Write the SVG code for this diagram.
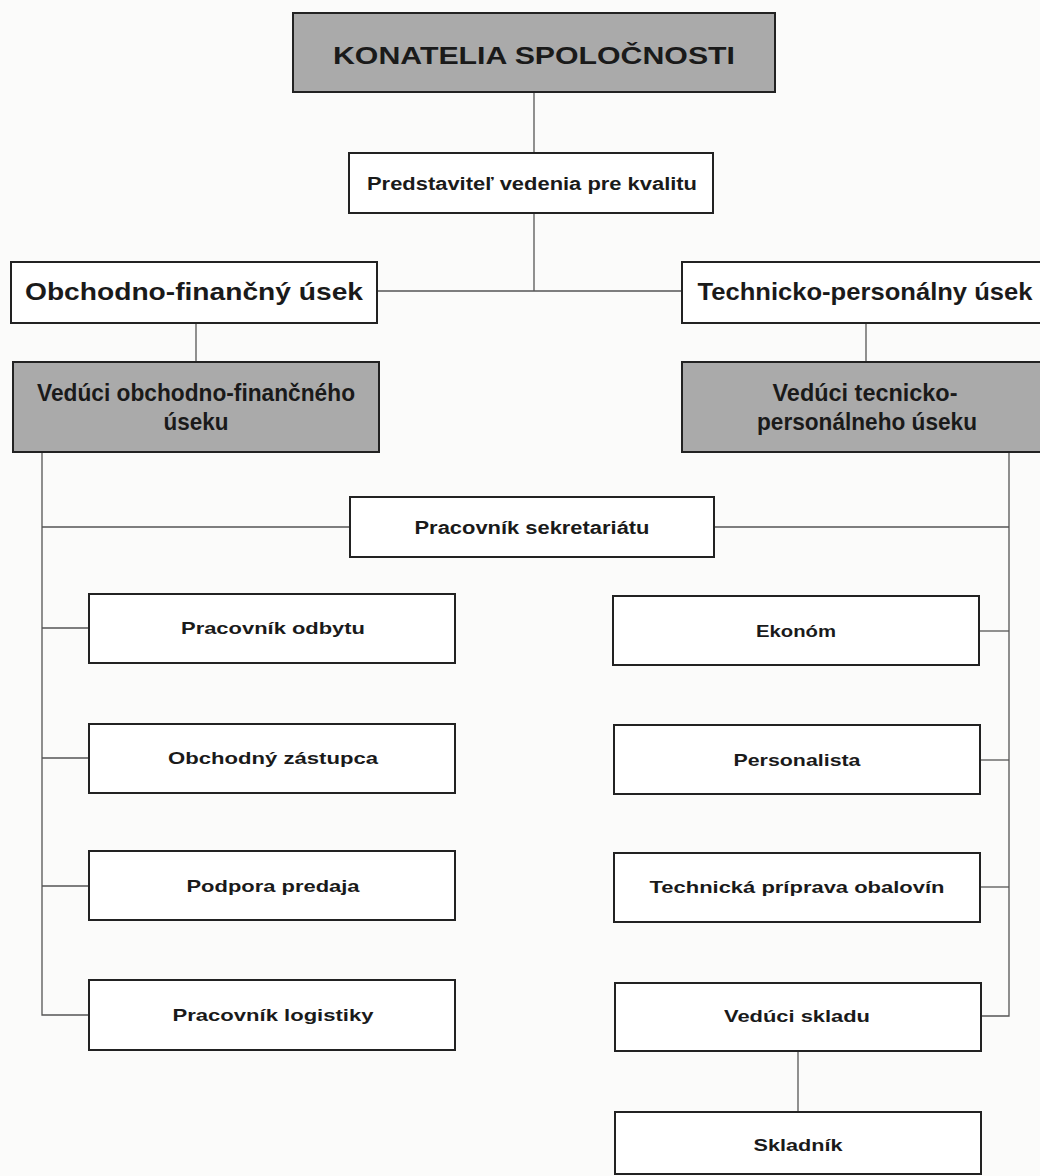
<svg xmlns="http://www.w3.org/2000/svg" width="1040" height="1176" viewBox="0 0 1040 1176">
<style>
.box{fill:#ffffff;stroke:#222;stroke-width:2}
.dark{fill:#aaaaaa;stroke:#222;stroke-width:2}
.ln{fill:none;stroke:#555;stroke-width:1.3}
text{font-family:"Liberation Sans",Arial,sans-serif;font-weight:bold;fill:#1a1a1a;text-anchor:middle}
.big{font-size:24px}
.mid{font-size:18px}
.sm{font-size:17px}
.nar{font-family:"Liberation Sans Narrow","Liberation Sans",Arial,sans-serif;font-size:23px;font-weight:bold}
</style>
<rect width="1040" height="1176" fill="#fbfbfa"/>
<g id="connectors">
<line class="ln" x1="534" y1="92" x2="534" y2="153"/>
<line class="ln" x1="534" y1="213" x2="534" y2="291"/>
<line class="ln" x1="377" y1="291" x2="682" y2="291"/>
<line class="ln" x1="196" y1="323" x2="196" y2="362"/>
<line class="ln" x1="866" y1="323" x2="866" y2="362"/>
<polyline class="ln" points="42,452 42,1015 89,1015"/>
<line class="ln" x1="42" y1="527" x2="350" y2="527"/>
<line class="ln" x1="714" y1="527" x2="1009" y2="527"/>
<line class="ln" x1="42" y1="628" x2="89" y2="628"/>
<line class="ln" x1="42" y1="758" x2="89" y2="758"/>
<line class="ln" x1="42" y1="886" x2="89" y2="886"/>
<polyline class="ln" points="1009,452 1009,1016 980,1016"/>
<line class="ln" x1="980" y1="631" x2="1009" y2="631"/>
<line class="ln" x1="980" y1="760" x2="1009" y2="760"/>
<line class="ln" x1="980" y1="887" x2="1009" y2="887"/>
<line class="ln" x1="798" y1="1051" x2="798" y2="1112"/>
</g>
<g id="konatelia">
<rect class="dark" x="293" y="13" width="482" height="79"/>
<text class="big" x="534" y="64" textLength="402" lengthAdjust="spacingAndGlyphs">KONATELIA SPOLOČNOSTI</text>
</g>
<g id="predstavitel">
<rect class="box" x="349" y="153" width="364" height="60"/>
<text class="mid" x="532" y="190" textLength="330" lengthAdjust="spacingAndGlyphs">Predstaviteľ vedenia pre kvalitu</text>
</g>
<g id="obchodno-usek">
<rect class="box" x="11" y="262" width="366" height="61"/>
<text class="big" x="194" y="300" textLength="338" lengthAdjust="spacingAndGlyphs">Obchodno-finančný úsek</text>
</g>
<g id="technicko-usek">
<rect class="box" x="682" y="262" width="370" height="61"/>
<text class="big" x="865" y="300" textLength="335" lengthAdjust="spacingAndGlyphs">Technicko-personálny úsek</text>
</g>
<g id="veduci-obchodno">
<rect class="dark" x="13" y="362" width="366" height="90"/>
<text class="nar" x="196" y="401" textLength="318" lengthAdjust="spacingAndGlyphs">Vedúci obchodno-finančného</text>
<text class="nar" x="196" y="430" textLength="65" lengthAdjust="spacingAndGlyphs">úseku</text>
</g>
<g id="veduci-technicko">
<rect class="dark" x="682" y="362" width="370" height="90"/>
<text class="nar" x="865" y="401" textLength="185" lengthAdjust="spacingAndGlyphs">Vedúci tecnicko-</text>
<text class="nar" x="867" y="430" textLength="220" lengthAdjust="spacingAndGlyphs">personálneho úseku</text>
</g>
<g id="sekretariat">
<rect class="box" x="350" y="497" width="364" height="60"/>
<text class="nar" x="532" y="534" style="font-size:18px" textLength="235" lengthAdjust="spacingAndGlyphs">Pracovník sekretariátu</text>
</g>
<g id="odbyt">
<rect class="box" x="89" y="594" width="366" height="69"/>
<text class="sm" x="273" y="634" textLength="184" lengthAdjust="spacingAndGlyphs">Pracovník odbytu</text>
</g>
<g id="zastupca">
<rect class="box" x="89" y="724" width="366" height="69"/>
<text class="sm" x="273" y="764" textLength="210" lengthAdjust="spacingAndGlyphs">Obchodný zástupca</text>
</g>
<g id="podpora">
<rect class="box" x="89" y="851" width="366" height="69"/>
<text class="sm" x="273" y="892" textLength="173" lengthAdjust="spacingAndGlyphs">Podpora predaja</text>
</g>
<g id="logistika">
<rect class="box" x="89" y="980" width="366" height="70"/>
<text class="sm" x="273" y="1021" textLength="201" lengthAdjust="spacingAndGlyphs">Pracovník logistiky</text>
</g>
<g id="ekonom">
<rect class="box" x="613" y="596" width="366" height="69"/>
<text class="sm" x="796" y="637" textLength="80" lengthAdjust="spacingAndGlyphs">Ekonóm</text>
</g>
<g id="personalista">
<rect class="box" x="614" y="725" width="366" height="69"/>
<text class="sm" x="797" y="766" textLength="127" lengthAdjust="spacingAndGlyphs">Personalista</text>
</g>
<g id="technicka">
<rect class="box" x="614" y="853" width="366" height="69"/>
<text class="sm" x="797" y="893" textLength="295" lengthAdjust="spacingAndGlyphs">Technická príprava obalovín</text>
</g>
<g id="veduci-skladu">
<rect class="box" x="615" y="983" width="366" height="68"/>
<text class="sm" x="797" y="1022" textLength="146" lengthAdjust="spacingAndGlyphs">Vedúci skladu</text>
</g>
<g id="skladnik">
<rect class="box" x="615" y="1112" width="366" height="62"/>
<text class="sm" x="798" y="1151" textLength="89" lengthAdjust="spacingAndGlyphs">Skladník</text>
</g>
</svg>
